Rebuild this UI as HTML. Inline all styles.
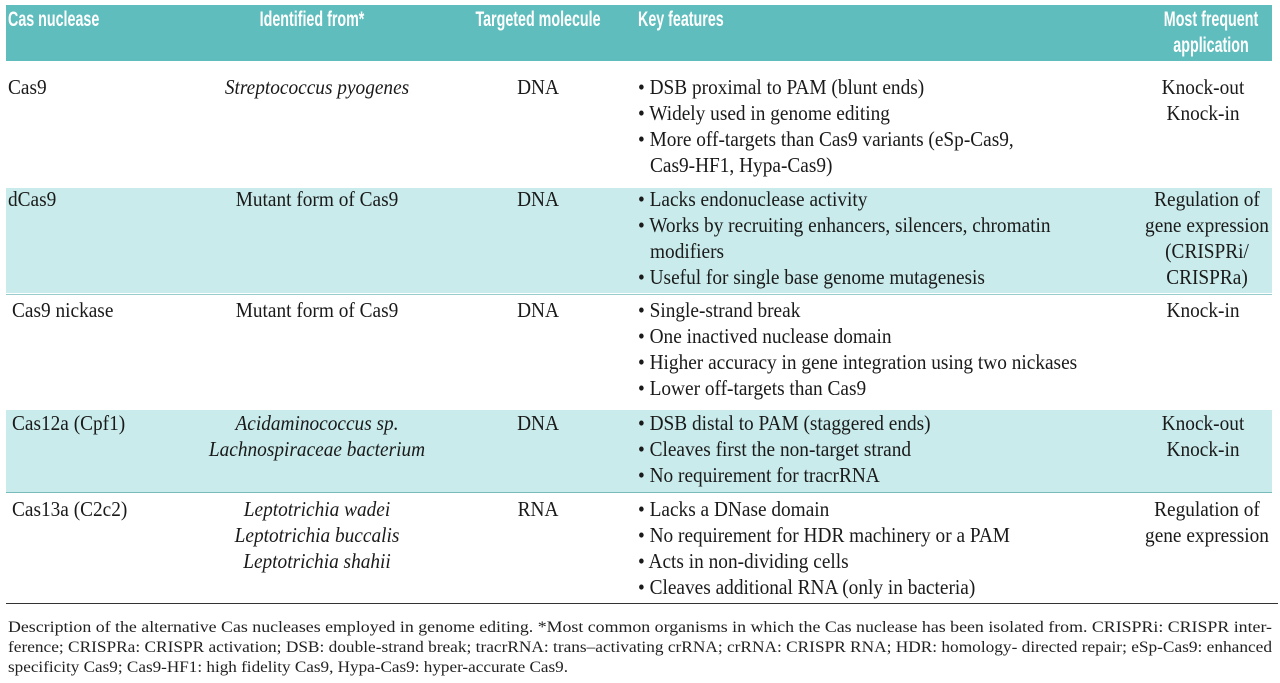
<!DOCTYPE html>
<html><head><meta charset="utf-8"><style>
body{margin:0;width:1280px;height:683px;background:#fff;position:relative;overflow:hidden;font-family:"Liberation Serif",serif;color:#1a1a1a}
.b{position:absolute;left:6px;width:1266px}
.t{position:absolute;white-space:nowrap;font-size:21px;line-height:26px;transform-origin:left top;transform:scaleX(.92)}
.c{transform:scaleX(.92) translateX(-50%)}
.h{position:absolute;white-space:nowrap;font-family:"Liberation Sans",sans-serif;font-weight:bold;color:#fff;font-size:21px;line-height:25px;transform-origin:left top;transform:scaleX(.68)}
.hc{transform:scaleX(.68) translateX(-50%)}
i{font-style:italic}
</style></head><body>
<div class="b" style="top:5px;height:56px;background:#5fbdbd"></div>
<div class="b" style="top:188px;height:105px;background:#c9ebeb"></div>
<div class="b" style="top:294px;height:1px;background:#9cc"></div>
<div class="b" style="top:410px;height:82px;background:#c9ebeb"></div>
<div class="b" style="top:492px;height:1px;background:#7bb"></div>
<div class="b" style="top:603px;height:1px;background:#333;width:1272px;left:6px"></div>

<div class="h" style="left:8px;top:7px">Cas nuclease</div>
<div class="h hc" style="left:312px;top:7px">Identified from*</div>
<div class="h hc" style="left:538px;top:7px">Targeted molecule</div>
<div class="h" style="left:638px;top:7px">Key features</div>
<div class="h hc" style="left:1211px;top:7px">Most frequent</div>
<div class="h hc" style="left:1211px;top:33px">application</div>

<div class="t" style="left:8px;top:74px">Cas9</div>
<div class="t c" style="left:317px;top:74px"><i>Streptococcus pyogenes</i></div>
<div class="t c" style="left:538px;top:74px">DNA</div>
<div class="t" style="left:638px;top:74px">• DSB proximal to PAM (blunt ends)</div>
<div class="t" style="left:638px;top:100px">• Widely used in genome editing</div>
<div class="t" style="left:638px;top:126px">• More off-targets than Cas9 variants (eSp-Cas9,</div>
<div class="t" style="left:650px;top:152px">Cas9-HF1, Hypa-Cas9)</div>
<div class="t c" style="left:1203px;top:74px">Knock-out</div>
<div class="t c" style="left:1203px;top:100px">Knock-in</div>

<div class="t" style="left:8px;top:186px">dCas9</div>
<div class="t c" style="left:317px;top:186px">Mutant form of Cas9</div>
<div class="t c" style="left:538px;top:186px">DNA</div>
<div class="t" style="left:638px;top:186px">• Lacks endonuclease activity</div>
<div class="t" style="left:638px;top:212px">• Works by recruiting enhancers, silencers, chromatin</div>
<div class="t" style="left:650px;top:238px">modifiers</div>
<div class="t" style="left:638px;top:264px">• Useful for single base genome mutagenesis</div>
<div class="t c" style="left:1207px;top:186px">Regulation of</div>
<div class="t c" style="left:1207px;top:212px">gene expression</div>
<div class="t c" style="left:1207px;top:238px">(CRISPRi/</div>
<div class="t c" style="left:1207px;top:264px">CRISPRa)</div>

<div class="t" style="left:12px;top:297px">Cas9 nickase</div>
<div class="t c" style="left:317px;top:297px">Mutant form of Cas9</div>
<div class="t c" style="left:538px;top:297px">DNA</div>
<div class="t" style="left:638px;top:297px">• Single-strand break</div>
<div class="t" style="left:638px;top:323px">• One inactived nuclease domain</div>
<div class="t" style="left:638px;top:349px">• Higher accuracy in gene integration using two nickases</div>
<div class="t" style="left:638px;top:375px">• Lower off-targets than Cas9</div>
<div class="t c" style="left:1203px;top:297px">Knock-in</div>

<div class="t" style="left:12px;top:410px">Cas12a (Cpf1)</div>
<div class="t c" style="left:317px;top:410px"><i>Acidaminococcus sp.</i></div>
<div class="t c" style="left:317px;top:436px"><i>Lachnospiraceae bacterium</i></div>
<div class="t c" style="left:538px;top:410px">DNA</div>
<div class="t" style="left:638px;top:410px">• DSB distal to PAM (staggered ends)</div>
<div class="t" style="left:638px;top:436px">• Cleaves first the non-target strand</div>
<div class="t" style="left:638px;top:462px">• No requirement for tracrRNA</div>
<div class="t c" style="left:1203px;top:410px">Knock-out</div>
<div class="t c" style="left:1203px;top:436px">Knock-in</div>

<div class="t" style="left:12px;top:496px">Cas13a (C2c2)</div>
<div class="t c" style="left:317px;top:496px"><i>Leptotrichia wadei</i></div>
<div class="t c" style="left:317px;top:522px"><i>Leptotrichia buccalis</i></div>
<div class="t c" style="left:317px;top:548px"><i>Leptotrichia shahii</i></div>
<div class="t c" style="left:538px;top:496px">RNA</div>
<div class="t" style="left:638px;top:496px">• Lacks a DNase domain</div>
<div class="t" style="left:638px;top:522px">• No requirement for HDR machinery or a PAM</div>
<div class="t" style="left:638px;top:548px">• Acts in non-dividing cells</div>
<div class="t" style="left:638px;top:574px">• Cleaves additional RNA (only in bacteria)</div>
<div class="t c" style="left:1207px;top:496px">Regulation of</div>
<div class="t c" style="left:1207px;top:522px">gene expression</div>

<svg style="position:absolute;left:0;top:610px" width="1280" height="73">
<g font-family="Liberation Serif, serif" font-size="16" fill="#222">
<text x="8" y="22" textLength="1264" lengthAdjust="spacingAndGlyphs">Description of the alternative Cas nucleases employed in genome editing. *Most common organisms in which the Cas nuclease has been isolated from. CRISPRi: CRISPR inter-</text>
<text x="8" y="42" textLength="1264" lengthAdjust="spacingAndGlyphs">ference; CRISPRa: CRISPR activation; DSB: double-strand break; tracrRNA: trans–activating crRNA; crRNA: CRISPR RNA; HDR: homology- directed repair; eSp-Cas9: enhanced</text>
<text x="8" y="62" textLength="560" lengthAdjust="spacingAndGlyphs">specificity Cas9; Cas9-HF1: high fidelity Cas9, Hypa-Cas9: hyper-accurate Cas9.</text>
</g></svg>
</body></html>
